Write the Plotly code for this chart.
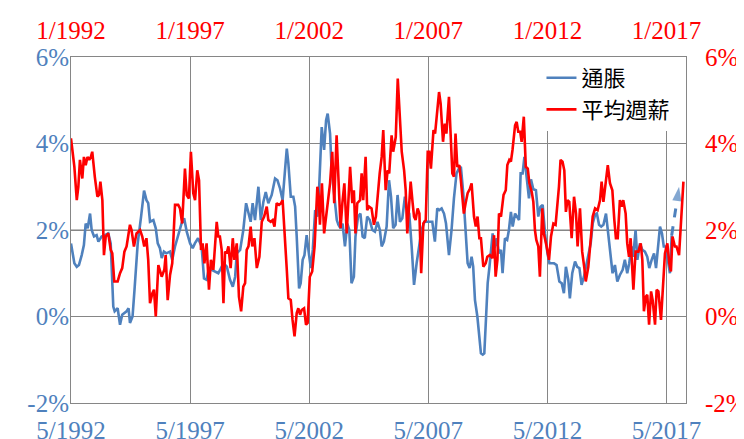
import plotly.graph_objects as go

# Month offsets (from 5/1992 for inflation, from 1/1992 for wages) and values in %
infl_t = [0,1.7,2.9,4,5.4,6.5,7.4,8.4,9.6,10.4,11.6,12.9,13.8,15.4,17,18.8,20,21.3,22,23.5,24.7,25.8,28,29,29.7,31,32,33.6,35.3,36.8,38,38.9,39.8,41.5,42.7,43.7,44.8,45.7,46.8,48,49.9,51,52.4,54,55.7,57,58.3,60,61.3,62.4,64,65.8,67,68.3,69.5,70.9,72.5,74.2,
          76.8,78.5,80.1,81.5,82.7,83.5,85.2,86.8,88.2,89.4,90.5,91.5,92.7,94.4,95.6,96.9,98.1,99.4,101.1,102.8,104,105.3,106.6,107.8,108.7,109.5,110.7,112,112.9,113.7,114.9,115.7,116.7,117.6,118.7,119.6,120.8,121.8,123,124.1,125.1,126.3,127.5,128.5,129.3,130.5,131.3,132.2,133,133.9,134.7,135.8,136.8,138,139.2,140.2,141.3,142.5,143.3,144.6,145.8,146.9,148,149.2,150.5,151.8,
          153.1,154.4,155.6,156.5,157.6,159,160.2,161.2,162.3,163.5,164.5,165.7,166.9,168.2,169.4,170.4,171.6,172.8,174.1,175.3,176.6,178,180,182,183.3,184.5,185.5,186.7,187.9,188.9,190.4,191.7,192.9,194.2,195.4,196.4,197.6,198.8,199.8,200.8,201.8,202.6,203.5,204.7,205.7,206.5,207.4,208.2,209.1,209.9,210.8,211.6,212.4,213.3,214.4,215.6,216.6,217.4,218.6,219.7,220.6,221.6,222.5,223.7,224.8,225.7,226.5,227.5,228.4,229.5,230.7,231.7,232.9,234.2,235.4,236.5,237.6,238.8,
          240,241,242.1,243.3,244.6,246,247.2,248.3,249.3,250.5,251.3,252.5,253.9,255,256.1,257.2,258.4,259.4,260.6,261.8,262.8,264,264.9,266,267.1,268.2,269.5,270.7,271.8,272.8,274,275.2,276.5,277.9,279,280.2,281.2,282.4,283.2,284.4,285.3,286.6,287.8,289.1,290.3,291.3,292.5,293.7,294.7,295.9,296.7,297.7,298.6,299.6,300.5,301.7,302.6]
infl = [1.69,1.23,1.15,1.19,1.42,1.65,2.15,2.04,2.38,2.0,1.85,1.88,1.73,1.85,1.88,1.92,1.69,0.23,0.12,0.19,-0.19,0.04,0.12,0.19,-0.15,0.0,0.62,1.69,2.31,2.91,2.69,2.62,2.19,2.23,2.04,1.69,1.58,1.35,1.5,1.46,1.5,1.31,1.62,1.85,2.15,2.27,1.96,1.69,1.58,1.69,1.81,1.62,0.88,0.85,1.12,1.08,1.04,1.0,
        1.23,1.15,0.85,0.69,0.92,1.46,1.54,2.0,2.62,2.38,2.19,2.62,2.23,3.0,2.23,2.65,2.88,2.62,2.81,3.19,3.15,2.96,2.69,3.38,3.88,3.54,2.77,2.77,2.54,1.85,0.65,0.77,1.31,1.42,1.88,1.54,1.12,1.54,2.46,2.31,3.08,4.38,3.85,4.54,4.69,4.23,3.38,3.0,2.62,2.23,2.12,2.04,2.15,1.62,2.15,2.0,0.77,0.92,1.85,2.31,2.38,1.85,1.81,2.31,2.23,2.0,
        1.96,2.19,2.0,1.62,1.73,2.08,3.15,2.77,2.04,2.12,2.81,2.19,2.27,2.77,2.46,2.38,1.62,0.73,1.23,1.62,2.0,2.19,2.19,2.19,1.73,2.5,2.46,2.5,2.38,2.15,1.42,2.0,2.73,3.31,3.42,3.46,2.85,2.08,1.23,1.12,1.38,1.15,0.38,0.0,-0.46,-0.85,-0.88,-0.85,0.0,0.77,1.15,1.54,1.92,1.58,1.81,1.46,1.54,1.0,1.81,1.77,2.0,2.42,2.08,2.38,2.31,2.23,3.31,3.31,3.69,3.15,2.73,3.17,2.94,2.92,2.31,2.54,2.58,1.92,
        1.46,1.23,1.23,1.23,1.19,0.81,0.77,0.54,1.15,0.85,0.42,1.0,1.27,1.15,1.12,0.73,0.92,1.15,1.5,1.69,2.15,2.35,2.38,2.12,2.08,2.12,2.38,1.85,1.31,1.0,1.19,0.81,0.96,1.08,1.31,1.0,1.23,1.62,1.38,2.0,1.31,1.69,1.54,1.5,1.38,1.12,1.31,1.46,1.12,1.62,2.08,1.92,1.62,1.62,1.38,1.0,1.88]

wage_t = [0,1.7,2.9,3.7,4.5,5.7,6.5,7.4,8.3,9.2,10,10.7,12,13.3,14.1,14.8,15.8,16.6,17.5,18.8,20,20.8,21.8,23.5,24.7,25.8,26.9,28,29.7,30.5,31.7,33,34.8,35.9,36.9,38,38.9,39.8,41,41.8,42.7,44,45.7,47,47.7,48.7,49.9,51,52.4,54,54.9,56,57.4,58.3,59.4,60.4,61.6,62.5,63.6,64.5,65.5,66.3,67.2,68.3,69.5,70.5,71.7,72.5,73.4,74.2,75,75.9,
          76.8,77.6,78.4,79.3,80.4,81.5,82.3,83.5,84.6,85.7,86.8,87.7,88.5,89.4,90.5,91.3,92.4,93.6,94.9,96.1,97.3,98.6,99.4,100.6,101.6,102.5,103.6,104.8,105.8,106.6,107.5,108.7,109.5,110.7,111.6,112.6,113.7,114.5,115.4,116.2,117.4,118.4,119.2,120.3,121.5,122.7,124.1,124.8,125.4,126.4,127.5,128.5,129.6,130.5,131.6,132.6,133.8,134.6,135.8,136.7,137.7,138.9,139.7,140.6,141.7,142.5,143.3,144.2,145.6,146.4,147.2,148.4,149.2,150.2,151.4,152.6,
          153.6,154.5,155.5,156.5,157.3,158.5,159.5,160.3,161.5,162.3,163.6,164.6,165.4,166.6,167.8,168.6,169.4,170.3,171.1,172.1,172.8,173.6,174.6,175.5,176.4,177.5,178.7,179.7,180.5,181.3,182.6,183.4,184.2,185.4,186.2,187.4,188.3,189.1,190.4,191.4,192.1,192.9,193.7,194.6,195.6,196.4,197.1,197.9,198.9,199.8,201,201.8,203,203.9,204.8,205.7,206.5,207.7,208.9,209.7,211,212.3,213.1,213.9,214.8,215.6,216.6,217.9,219,219.8,220.8,221.6,222.4,223.7,224.5,225.3,226.3,227,228.1,229.1,230.1,230.9,232.1,232.9,233.7,
          234.4,235.4,236.2,237.4,238.2,239.6,240.8,241.8,243,244.1,245,245.8,246.6,247.6,248.5,249.3,250.1,251,252.2,253.4,254.4,255.2,256.4,257.5,258.6,259.3,260.6,261.8,262.8,264,265.3,266.5,267.3,268.2,269.4,270.4,271.5,272.7,273.7,274.5,275.4,276.5,277.4,278.2,279.4,280.2,281.1,281.9,283.3,284.4,285.8,287,287.8,288.6,289.6,290.3,291.2,292.2,293,294.2,295,295.9,297.2,298.1,299.2,300.4,301.4,302.2,303,304.2,305,306.3,307.1,308,308.5]
wage = [4.12,3.46,2.69,3.0,3.62,3.19,3.69,3.5,3.69,3.62,3.69,3.81,3.23,2.77,2.81,3.12,2.69,1.42,1.85,1.92,1.54,1.46,0.81,0.81,1.0,1.12,1.5,1.62,2.12,2.0,1.62,1.92,2.0,1.85,1.62,1.81,1.31,0.31,0.54,0.62,0.0,1.19,0.92,1.08,1.42,0.38,0.96,1.23,2.58,2.58,2.5,2.15,3.42,2.81,2.73,3.81,2.85,2.69,3.38,3.15,1.54,1.69,1.23,1.69,0.62,1.31,1.08,1.62,2.19,1.85,1.85,1.54,
        0.31,1.5,1.46,1.62,1.12,1.81,1.31,1.69,0.46,0.12,0.69,0.77,1.54,1.62,2.08,1.62,1.81,1.12,1.38,2.19,2.31,2.54,2.23,2.19,2.23,2.08,2.62,2.58,2.62,2.69,2.08,1.08,0.42,0.38,-0.08,-0.46,0.08,0.19,0.04,0.15,0.19,-0.19,-0.15,0.92,1.04,1.62,3.0,2.77,2.12,3.08,1.92,2.31,2.77,3.08,3.81,2.62,4.19,3.38,2.04,2.62,3.08,1.92,2.77,3.46,2.62,2.92,1.92,2.62,2.69,3.31,2.69,3.69,2.46,2.54,2.5,2.12,
        2.31,2.85,3.31,3.69,4.31,2.92,3.38,3.31,4.19,3.81,4.15,5.5,4.85,3.81,3.38,2.92,1.92,2.62,3.12,2.62,2.31,2.23,2.5,2.38,1.0,2.15,2.23,3.81,3.81,3.42,4.31,4.23,4.62,5.19,4.92,4.04,4.46,4.23,5.08,3.92,3.31,3.23,4.23,3.46,3.5,3.15,2.85,2.38,2.65,2.85,2.96,3.08,2.31,2.08,2.31,1.81,1.81,1.15,1.23,1.38,1.42,1.35,1.88,0.92,1.31,2.38,2.31,2.81,2.92,3.5,3.62,3.58,3.85,4.42,4.5,4.27,4.27,4.04,4.62,3.46,3.42,3.08,2.88,2.65,2.0,
        1.77,1.62,0.92,2.5,1.92,1.62,1.31,1.85,2.15,2.12,2.54,3.0,3.62,3.58,3.38,2.42,2.69,2.65,1.81,2.77,2.38,1.62,2.5,1.5,1.12,0.81,1.15,1.77,2.31,2.5,2.46,2.69,3.12,2.65,3.12,3.5,3.08,2.92,2.23,1.81,1.81,2.69,2.54,2.69,2.38,1.69,1.38,1.81,0.62,1.5,1.5,1.69,1.31,0.12,0.46,0.5,-0.19,0.58,0.38,-0.19,0.62,0.58,-0.08,0.77,1.46,1.69,1.23,1.04,1.85,1.62,1.62,1.42,2.0,2.69,3.12]

# Projected inflation (dashed arrow)
proj_t = [302.6, 306.3]
proj_v = [1.88, 3.0]

tick_pos = [0, 60, 120, 180, 240, 300]
bottom_labels = ["5/1992", "5/1997", "5/2002", "5/2007", "5/2012", "5/2017"]
top_labels = ["1/1992", "1/1997", "1/2002", "1/2007", "1/2012", "1/2017"]
y_vals = [-2, 0, 2, 4, 6]
y_labels = ["-2%", "0%", "2%", "4%", "6%"]

BLUE = "#4F81BD"
RED = "#FF0000"
GRID = "#868686"
SERIF = "Liberation Serif, Times New Roman, serif"

fig = go.Figure()
fig.add_trace(go.Scatter(x=infl_t, y=infl, mode="lines", name="通脹",
                         line=dict(color=BLUE, width=2.6), xaxis="x", yaxis="y"))
fig.add_trace(go.Scatter(x=proj_t, y=proj_v, mode="lines+markers", showlegend=False,
                         line=dict(color=BLUE, width=3, dash="dash"),
                         marker=dict(symbol=["circle", "arrow"], size=[0, 15], angleref="previous",
                                     color=BLUE, line=dict(width=0)),
                         xaxis="x", yaxis="y", hoverinfo="skip"))
fig.add_trace(go.Scatter(x=wage_t, y=wage, mode="lines", name="平均週薪",
                         line=dict(color=RED, width=2.6), xaxis="x2", yaxis="y2"))

xr = [0, 309.8]
fig.update_layout(
    width=736, height=431,
    margin=dict(l=63, r=58, t=49, b=36),
    paper_bgcolor="white", plot_bgcolor="white",
    showlegend=True,
    legend=dict(x=0.765, y=1.0, xanchor="left", yanchor="top", bgcolor="white",
                font=dict(family="Noto Sans CJK TC", size=22, color="black"),
                tracegroupgap=0, itemwidth=30),
    xaxis=dict(range=xr, tickvals=tick_pos, ticktext=bottom_labels, automargin=False,
               tickfont=dict(family=SERIF, size=25, color=BLUE),
               showgrid=True, gridcolor=GRID, gridwidth=1,
               showline=True, linecolor=GRID, linewidth=1, mirror=True,
               zeroline=False, ticks="", ticklabelstandoff=5),
    xaxis2=dict(range=xr, overlaying="x", side="top", tickvals=tick_pos, ticktext=top_labels,
                automargin=False,
                tickfont=dict(family=SERIF, size=25, color=RED),
                showgrid=False, showline=False, zeroline=False, ticks="", ticklabelstandoff=12),
    yaxis=dict(range=[-2, 6], tickvals=y_vals, ticktext=y_labels, automargin=False,
               tickfont=dict(family=SERIF, size=25, color=BLUE),
               showgrid=True, gridcolor=GRID, gridwidth=1,
               showline=True, linecolor=GRID, linewidth=1, mirror=True,
               zeroline=False, ticks="", ticklabelstandoff=-4),
    yaxis2=dict(range=[-2, 6], overlaying="y", side="right", tickvals=y_vals, ticktext=y_labels,
                automargin=False,
                tickfont=dict(family=SERIF, size=25, color=RED),
                showgrid=False, zeroline=False, showline=False, ticks="", ticklabelstandoff=18),
    shapes=[dict(type="line", xref="x domain", yref="y", x0=0, x1=1, y0=2, y1=2,
                 line=dict(color="#BFBFBF", width=2), layer="below")],
)

fig.write_html("out.html")
